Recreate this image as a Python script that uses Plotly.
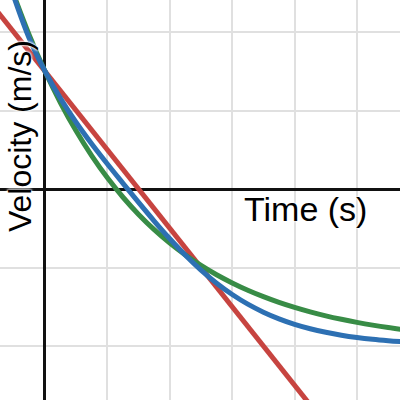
import plotly.graph_objects as go

# Time (s) and velocity (m/s) values
red_t = [-0.80, 4.40]
red_v = [2.30, -2.90]

blue_t = [-0.50, -0.25, 0.00, 0.25, 0.50, 0.75, 1.00, 1.25, 1.50, 1.75, 2.00, 2.25, 2.50,
          2.75, 3.00, 3.25, 3.50, 3.75, 4.00, 4.25, 4.50, 4.75, 5.00, 5.25, 5.50, 5.75]
blue_v = [2.451, 1.915, 1.500, 1.151, 0.847, 0.573, 0.318, 0.072, -0.171, -0.408, -0.634, -0.844,
          -1.033, -1.200, -1.344, -1.467, -1.569, -1.654, -1.724, -1.780, -1.825, -1.862, -1.891,
          -1.914, -1.932, -1.947]

green_t = [-0.50, -0.25, 0.00, 0.25, 0.50, 0.75, 1.00, 1.25, 1.50, 1.75, 2.00, 2.25, 2.50,
           2.75, 3.00, 3.25, 3.50, 3.75, 4.00, 4.25, 4.50, 4.75, 5.00, 5.25, 5.50, 5.75]
green_v = [2.474, 1.957, 1.500, 1.096, 0.738, 0.422, 0.142, -0.105, -0.324, -0.518, -0.689, -0.840,
           -0.974, -1.093, -1.197, -1.290, -1.372, -1.445, -1.509, -1.566, -1.616, -1.660, -1.699,
           -1.734, -1.765, -1.792]

marker_t = 5.0

x_title = "Time (s)"
y_title = "Velocity (m/s)"

RED = "#c74440"
BLUE = "#2d70b3"
GREEN = "#388c46"

fig = go.Figure()
fig.add_trace(go.Scatter(x=red_t, y=red_v, mode="lines",
                         line=dict(color=RED, width=5), hoverinfo="skip"))
fig.add_trace(go.Scatter(x=green_t, y=green_v, mode="lines",
                         line=dict(color=GREEN, width=5, shape="spline", smoothing=1.0), hoverinfo="skip"))
fig.add_trace(go.Scatter(x=blue_t, y=blue_v, mode="lines",
                         line=dict(color=BLUE, width=5, shape="spline", smoothing=1.0), hoverinfo="skip"))

fig.add_shape(type="line", x0=marker_t, x1=marker_t, y0=0, y1=1, yref="paper",
              line=dict(color="#999999", width=2), layer="between")

halo = "white 0px 0px 3px, white 0px 0px 3px, white 0px 0px 2px"
fig.add_annotation(x=4.18, y=-0.25, text=x_title, showarrow=False, borderpad=0,
                   font=dict(family="Liberation Sans, Arial", size=34, color="black", shadow=halo),
                   xanchor="center", yanchor="middle")
fig.add_annotation(x=-0.41, y=0.68, text=y_title, showarrow=False, textangle=-90, borderpad=0,
                   font=dict(family="Liberation Sans, Arial", size=32, color="black", shadow=halo),
                   xanchor="center", yanchor="middle")

fig.update_layout(
    width=400, height=400,
    margin=dict(l=0, r=0, t=0, b=0),
    paper_bgcolor="white", plot_bgcolor="white",
    showlegend=False,
    xaxis=dict(range=[-0.721, 5.689], dtick=1, tick0=0, showgrid=True, gridcolor="#e0e0e0",
               gridwidth=2, zeroline=True, zerolinecolor="#111111", zerolinewidth=3,
               showticklabels=False, ticks="", showline=False, fixedrange=True),
    yaxis=dict(range=[-2.688, 2.408], dtick=1, tick0=0, showgrid=True, gridcolor="#e0e0e0",
               gridwidth=2, zeroline=True, zerolinecolor="#111111", zerolinewidth=3,
               showticklabels=False, ticks="", showline=False, fixedrange=True),
)

fig.write_html("out.html", config={"displayModeBar": False},
               post_script="document.body.style.margin='0';document.body.style.overflow='hidden';")
